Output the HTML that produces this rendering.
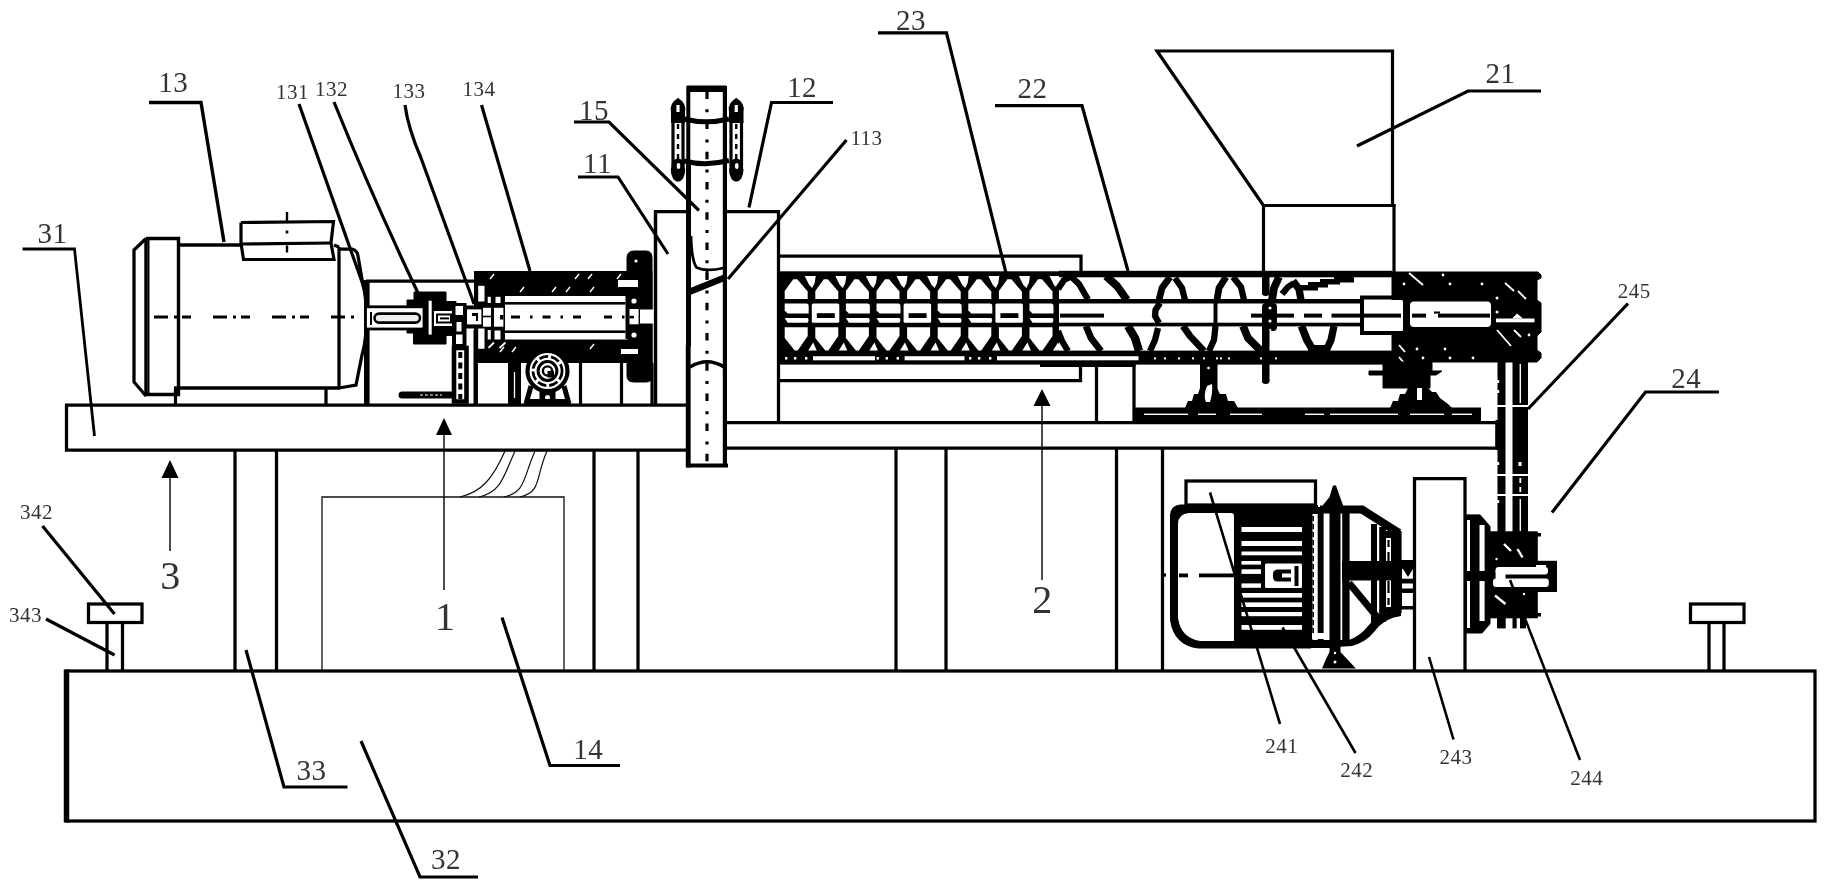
<!DOCTYPE html>
<html><head><meta charset="utf-8"><title>Figure</title>
<style>
html,body{margin:0;padding:0;background:#fff;}
svg{display:block;will-change:transform;font-family:"Liberation Serif","Noto Serif CJK SC",serif;}
</style></head><body>
<svg width="1827" height="888" viewBox="0 0 1827 888">
<rect x="0" y="0" width="1827" height="888" fill="#fff"/>
<rect x="67" y="671" width="1748" height="150" fill="none" stroke="#000" stroke-width="3.25"/>
<line x1="66.5" y1="669.5" x2="66.5" y2="822.5" stroke="#000" stroke-width="5.5" />
<rect x="88.5" y="604" width="53.5" height="18.5" fill="none" stroke="#000" stroke-width="3.25"/>
<line x1="107" y1="622" x2="107" y2="671" stroke="#000" stroke-width="3.25" />
<line x1="122.5" y1="622" x2="122.5" y2="671" stroke="#000" stroke-width="3.25" />
<rect x="1690.5" y="604" width="53.5" height="18.5" fill="none" stroke="#000" stroke-width="3.25"/>
<line x1="1709" y1="622" x2="1709" y2="671" stroke="#000" stroke-width="3.25" />
<line x1="1724" y1="622" x2="1724" y2="671" stroke="#000" stroke-width="3.25" />
<path d="M686 405 L66.5 405 L66.5 450 L686 450" fill="none" stroke="#000" stroke-width="3.25" />
<line x1="235" y1="450" x2="235" y2="671" stroke="#000" stroke-width="3.25" />
<line x1="276.5" y1="450" x2="276.5" y2="671" stroke="#000" stroke-width="3.25" />
<line x1="594" y1="450" x2="594" y2="671" stroke="#000" stroke-width="3.25" />
<line x1="638" y1="450" x2="638" y2="671" stroke="#000" stroke-width="3.25" />
<path d="M727 422.5 L1497 422.5" fill="none" stroke="#000" stroke-width="3.25" />
<path d="M727 448 L1497 448 L1497 422.5" fill="none" stroke="#000" stroke-width="3.25" />
<line x1="896" y1="448" x2="896" y2="671" stroke="#000" stroke-width="3.25" />
<line x1="946" y1="448" x2="946" y2="671" stroke="#000" stroke-width="3.25" />
<line x1="1116.5" y1="448" x2="1116.5" y2="671" stroke="#000" stroke-width="3.25" />
<line x1="1162.5" y1="448" x2="1162.5" y2="671" stroke="#000" stroke-width="3.25" />
<path d="M322 671 L322 497 L564 497 L564 671" fill="none" stroke="#111" stroke-width="1.3" />
<path d="M505 451 C493 478 482 492 460 497" fill="none" stroke="#111" stroke-width="1.2" />
<path d="M515 451 C503 478 501 492 479 497" fill="none" stroke="#111" stroke-width="1.2" />
<path d="M535 451 C523 478 526 492 504 497" fill="none" stroke="#111" stroke-width="1.2" />
<path d="M547 451 C535 478 542 492 520 497" fill="none" stroke="#111" stroke-width="1.2" />
<line x1="688.3" y1="86" x2="688.3" y2="466" stroke="#000" stroke-width="4" />
<line x1="724.9" y1="86" x2="724.9" y2="466" stroke="#000" stroke-width="4.2" />
<rect x="687" y="85.5" width="39" height="6.5" fill="#000"/>
<line x1="687" y1="465.5" x2="728" y2="465.5" stroke="#000" stroke-width="4" />
<line x1="707" y1="91.4" x2="707" y2="470" stroke="#000" stroke-width="3.2" stroke-dasharray="7.5 10.3 3 9.4"/>
<path d="M684 119 Q706 124.5 729 119" fill="none" stroke="#000" stroke-width="5" />
<path d="M684 161 Q706 166.5 729 160.5" fill="none" stroke="#000" stroke-width="5" />
<path d="M672 112 Q670 104 678.0 99 Q686 104 684 112 L684 122 L672 122 Z" fill="#000" stroke="#000" stroke-width="2" />
<rect x="676.4" y="105" width="3.2" height="7" fill="#fff"/>
<line x1="673" y1="120" x2="673" y2="166" stroke="#000" stroke-width="3.2" />
<line x1="683" y1="120" x2="683" y2="166" stroke="#000" stroke-width="3.2" />
<line x1="678.0" y1="124" x2="678.0" y2="160" stroke="#000" stroke-width="2.4" stroke-dasharray="5 5"/>
<ellipse cx="678.0" cy="170" rx="7.2" ry="11.5" fill="#000"/>
<ellipse cx="678.5" cy="166" rx="1.8" ry="3" fill="#fff"/>
<path d="M730 112 Q728 104 736.25 99 Q744.5 104 742.5 112 L742.5 122 L730 122 Z" fill="#000" stroke="#000" stroke-width="2" />
<rect x="734.65" y="105" width="3.2" height="7" fill="#fff"/>
<line x1="731" y1="120" x2="731" y2="166" stroke="#000" stroke-width="3.2" />
<line x1="741.5" y1="120" x2="741.5" y2="166" stroke="#000" stroke-width="3.2" />
<line x1="736.25" y1="124" x2="736.25" y2="160" stroke="#000" stroke-width="2.4" stroke-dasharray="5 5"/>
<ellipse cx="736.25" cy="170" rx="7.2" ry="11.5" fill="#000"/>
<ellipse cx="736.75" cy="166" rx="1.8" ry="3" fill="#fff"/>
<path d="M691 236 Q691.5 260 696.5 267.5 Q706 272 723.5 268" fill="none" stroke="#000" stroke-width="2.8" />
<rect x="686" y="165" width="5" height="181" fill="#000"/>
<path d="M689 292 L725 277.5" fill="none" stroke="#000" stroke-width="6.5" />
<line x1="707" y1="270" x2="707" y2="278" stroke="#000" stroke-width="2.5" />
<path d="M690 367 Q707.3 356.5 724 367" fill="none" stroke="#000" stroke-width="3.6" />
<rect x="685.8" y="345" width="4.7" height="122.5" fill="#000"/>
<path d="M688 211.5 L655.5 211.5 L655.5 404" fill="none" stroke="#000" stroke-width="3.25" />
<path d="M725 211.5 L778.5 211.5 L778.5 422" fill="none" stroke="#000" stroke-width="3.25" />
<path d="M146 238.5 L134 250 L134 382 L146 396" fill="none" stroke="#000" stroke-width="3.25" />
<path d="M146 238.5 L178.5 238.5 L178.5 394.5 L146 394.5 L146 238.5" fill="none" stroke="#000" stroke-width="3.4" />
<line x1="148.5" y1="240" x2="148.5" y2="394" stroke="#000" stroke-width="2" />
<path d="M178.5 245 L241 245" fill="none" stroke="#000" stroke-width="3.4" />
<path d="M334 245 L339 247" fill="none" stroke="#000" stroke-width="3.4" />
<line x1="339" y1="247" x2="339" y2="388" stroke="#000" stroke-width="3.25" />
<path d="M174 388 L340 388" fill="none" stroke="#000" stroke-width="3.4" />
<path d="M339 249 L352 249 Q357 250 358 256 L363 285 Q366 296 366 310 L366 330 Q365 345 362 355 L356 385 L339 388" fill="none" stroke="#000" stroke-width="3.25" />
<path d="M241 222.5 L333.5 221.5 L331 243 L334 259.5 L243.5 259.5 L241 243 L241 222.5" fill="none" stroke="#000" stroke-width="3.2" />
<path d="M241 244 L332 243" fill="none" stroke="#000" stroke-width="3.2" />
<line x1="287" y1="212" x2="287" y2="221" stroke="#000" stroke-width="2.4" />
<line x1="287" y1="230.5" x2="287" y2="233.5" stroke="#000" stroke-width="2.6" />
<line x1="287" y1="245.5" x2="287" y2="252.5" stroke="#000" stroke-width="2.4" />
<path d="M175.5 388 L175.5 404" fill="none" stroke="#000" stroke-width="3.25" />
<path d="M326 388 L326 404" fill="none" stroke="#000" stroke-width="3.25" />
<line x1="302" y1="388" x2="326" y2="388" stroke="#000" stroke-width="2" />
<line x1="154" y1="317" x2="356" y2="317" stroke="#000" stroke-width="3.2" stroke-dasharray="14 6 3 5 9 22"/>
<rect x="364" y="280" width="5.6" height="124" fill="#000"/>
<path d="M366 281.2 L476 281.2" fill="none" stroke="#000" stroke-width="3.2" />
<path d="M407 300 L414 300 L414 292 L446 292 L446 301.5 L456 301.5 L456 335.4 L446 335.4 L446 344 L413.5 344 L413.5 333 L407 333 Z" fill="#000" stroke="#000" stroke-width="1" />
<rect x="365.5" y="306.8" width="58.5" height="22.19999999999999" fill="#fff" stroke="#000" stroke-width="2.8"/>
<rect x="370" y="312" width="2" height="13" fill="#000"/>
<rect x="374.5" y="313.6" width="45.5" height="9" rx="4.5" fill="#eee" stroke="#000" stroke-width="2.6"/>
<rect x="428.6" y="300.7" width="3.1" height="33.9" fill="#fff"/>
<rect x="434" y="311" width="20.6" height="15" fill="#fff"/>
<rect x="437" y="314.5" width="14" height="8.0" fill="#fff" stroke="#000" stroke-width="2"/>
<rect x="440" y="317.4" width="9" height="2.0" fill="#000"/>
<rect x="452" y="303" width="14.5" height="45" fill="#000"/>
<rect x="455.5" y="306" width="7.5" height="9" fill="#fff"/>
<rect x="456.5" y="322" width="5.0" height="9.5" fill="#fff"/>
<rect x="456" y="334.5" width="6.5" height="9.5" fill="#fff"/>
<rect x="466" y="305.5" width="10" height="23.0" fill="#000"/>
<rect x="454" y="348" width="12.5" height="53.5" fill="#fff" stroke="#000" stroke-width="4.6"/>
<line x1="460.3" y1="352" x2="460.3" y2="399" stroke="#000" stroke-width="4" stroke-dasharray="6 4.5"/>
<rect x="398.5" y="391.4" width="56" height="7.2" rx="3.6" fill="#000"/>
<line x1="420" y1="395" x2="442" y2="395" stroke="#fff" stroke-width="1" stroke-dasharray="3 2"/>
<line x1="475.7" y1="330" x2="475.7" y2="404" stroke="#000" stroke-width="4.4" />
<rect x="474" y="271" width="178.5" height="92" fill="#000"/>
<path d="M627 258 Q627 251 634 251 L646 251 Q652 251 652 258 L652 376 Q652 382 646 382 L634 382 Q627 382 627 376 Z" fill="#000" stroke="#000" stroke-width="1" />
<circle cx="636" cy="261" r="1.6" fill="#fff" stroke="#000" stroke-width="0" />
<rect x="505" y="296" width="123" height="43.5" fill="#fff"/>
<rect x="505" y="302" width="120.5" height="2.6" fill="#000"/>
<rect x="505" y="330.4" width="120.5" height="2.6" fill="#000"/>
<line x1="511" y1="317" x2="628" y2="317" stroke="#000" stroke-width="3.2" stroke-dasharray="9 10 2.5 10 8 10 2.5 10 8 23 8 10 2.5 20"/>
<rect x="467" y="309.4" width="14.4" height="15.0" fill="#fff"/>
<rect x="472" y="313" width="4" height="3" fill="#000"/>
<rect x="476" y="313" width="2" height="8" fill="#000"/>
<rect x="483" y="307.8" width="8" height="7.9" fill="#fff"/>
<rect x="483" y="317.3" width="8" height="9.4" fill="#fff"/>
<rect x="494" y="307.8" width="9.4" height="18.9" fill="#fff"/>
<rect x="500" y="315" width="3.4" height="4.5" fill="#000"/>
<rect x="478.2" y="285.8" width="6.3" height="15.7" fill="#fff"/>
<rect x="487.7" y="296.8" width="3.1" height="6.2" fill="#fff"/>
<rect x="495.5" y="296.8" width="5.0" height="6.2" fill="#fff"/>
<rect x="478.2" y="328.5" width="6.3" height="20.3" fill="#fff"/>
<rect x="487.7" y="330" width="3.1" height="9.5" fill="#fff"/>
<rect x="494.5" y="330.5" width="6.0" height="9.0" fill="#fff"/>
<line x1="488.5" y1="347.8" x2="494" y2="342.5" stroke="#fff" stroke-width="1.8" />
<line x1="499.5" y1="348" x2="505.5" y2="342.5" stroke="#fff" stroke-width="1.8" />
<rect x="625.5" y="296" width="26.5" height="43" fill="#000"/>
<rect x="640" y="309.5" width="14" height="14.0" fill="#fff"/>
<rect x="629.5" y="309" width="9.1" height="15.3" fill="#fff"/>
<rect x="629.5" y="315.8" width="4.5" height="2.6" fill="#000"/>
<circle cx="634" cy="301" r="2.6" fill="#fff" stroke="#000" stroke-width="0" />
<circle cx="634" cy="335" r="2.6" fill="#fff" stroke="#000" stroke-width="0" />
<rect x="618" y="280" width="20" height="7" fill="#fff"/>
<rect x="621" y="349" width="17" height="5" fill="#fff"/>
<line x1="490" y1="279" x2="494" y2="274" stroke="#fff" stroke-width="1.4" />
<line x1="520" y1="292" x2="524" y2="287" stroke="#fff" stroke-width="1.4" />
<line x1="552" y1="292" x2="556" y2="287" stroke="#fff" stroke-width="1.4" />
<line x1="566" y1="292" x2="570" y2="287" stroke="#fff" stroke-width="1.4" />
<line x1="590" y1="292" x2="594" y2="287" stroke="#fff" stroke-width="1.4" />
<line x1="575" y1="279" x2="579" y2="274" stroke="#fff" stroke-width="1.4" />
<line x1="588" y1="279" x2="592" y2="274" stroke="#fff" stroke-width="1.4" />
<line x1="617" y1="279" x2="621" y2="274" stroke="#fff" stroke-width="1.4" />
<line x1="500" y1="352" x2="504" y2="347" stroke="#fff" stroke-width="1.4" />
<line x1="512" y1="352" x2="516" y2="347" stroke="#fff" stroke-width="1.4" />
<line x1="590" y1="349" x2="594" y2="344" stroke="#fff" stroke-width="1.4" />
<line x1="476" y1="363" x2="476" y2="404" stroke="#000" stroke-width="3.2" />
<line x1="510.5" y1="363" x2="510.5" y2="404" stroke="#000" stroke-width="3.2" />
<line x1="519" y1="363" x2="519" y2="404" stroke="#000" stroke-width="3.2" />
<line x1="580.5" y1="363" x2="580.5" y2="404" stroke="#000" stroke-width="3.2" />
<line x1="621.5" y1="363" x2="621.5" y2="404" stroke="#000" stroke-width="3.2" />
<line x1="652" y1="363" x2="652" y2="404" stroke="#000" stroke-width="3.2" />
<rect x="508" y="363" width="13" height="41" fill="#000"/>
<line x1="514.5" y1="372" x2="514.5" y2="398" stroke="#fff" stroke-width="1.3" />
<circle cx="547.5" cy="371" r="20" fill="#fff" stroke="#000" stroke-width="4.2" />
<circle cx="547.5" cy="371" r="14.6" fill="none" stroke="#000" stroke-width="2.8" stroke-dasharray="9 3"/>
<circle cx="547.5" cy="371" r="9.4" fill="none" stroke="#000" stroke-width="3" />
<circle cx="547.5" cy="371" r="4.6" fill="none" stroke="#000" stroke-width="2.4" />
<rect x="547.5" y="371" width="6.5" height="6.5" fill="#000"/>
<path d="M531 386 L526 404" fill="none" stroke="#000" stroke-width="5" />
<path d="M564 386 L569 404" fill="none" stroke="#000" stroke-width="5" />
<rect x="539.5" y="390" width="16.0" height="14" fill="#000"/>
<circle cx="547.5" cy="397.5" r="2.5" fill="#fff" stroke="#000" stroke-width="0" />
<rect x="525" y="399" width="45" height="5" fill="#000"/>
<line x1="655.5" y1="211.5" x2="655.5" y2="404" stroke="#000" stroke-width="3.25" />
<path d="M779 256 L1081 256 L1081 272" fill="none" stroke="#000" stroke-width="3.25" />
<path d="M779 380.5 L1080.5 380.5 L1080.5 364" fill="none" stroke="#000" stroke-width="3.25" />
<rect x="779" y="271.3" width="280" height="93.3" fill="#000"/>
<path d="M784.7 299 L784.7 291 L793.2 279.3 L797.2 279.3 L807.7 291.5 L807.7 299 Z" fill="#fff" stroke="#000" stroke-width="0" />
<path d="M804.7 276 L815.7 276 L814.7 283 L812.2 288 L809.2 285 Z" fill="#fff" stroke="#000" stroke-width="0" />
<path d="M784.7 303.5 L806.7 303.5 Q808.7 303.5 808.7 306 L808.7 313.4 L787.7 313.4 L784.7 310.5 Z" fill="#fff"/>
<path d="M784.7 317.9 L807.7 317.9 L808.7 320 L807.7 322.7 L787.7 322.7 Z" fill="#fff"/>
<path d="M784.7 327.2 L807.7 327.2 L807.7 336 L797.7 350.4 L794.7 350.4 L784.7 338 Z" fill="#fff" stroke="#000" stroke-width="0" />
<path d="M808.2 350.6 L816.7 350.6 L813.2 342.5 Z" fill="#fff" stroke="#000" stroke-width="0" />
<path d="M815.3000000000001 299 L815.3000000000001 291 L823.8000000000001 279.3 L827.8000000000001 279.3 L838.3000000000001 291.5 L838.3000000000001 299 Z" fill="#fff" stroke="#000" stroke-width="0" />
<path d="M835.3000000000001 276 L846.3000000000001 276 L845.3000000000001 283 L842.8000000000001 288 L839.8000000000001 285 Z" fill="#fff" stroke="#000" stroke-width="0" />
<rect x="811.8" y="303.5" width="27.5" height="19.3" rx="1.5" fill="#fff"/>
<rect x="816.8000000000001" y="313.2" width="18.0" height="4.8" fill="#000"/>
<path d="M815.3000000000001 327.2 L838.3000000000001 327.2 L838.3000000000001 336 L828.3000000000001 350.4 L825.3000000000001 350.4 L815.3000000000001 338 Z" fill="#fff" stroke="#000" stroke-width="0" />
<path d="M838.8000000000001 350.6 L847.3000000000001 350.6 L843.8000000000001 342.5 Z" fill="#fff" stroke="#000" stroke-width="0" />
<path d="M845.9000000000001 299 L845.9000000000001 291 L854.4000000000001 279.3 L858.4000000000001 279.3 L868.9000000000001 291.5 L868.9000000000001 299 Z" fill="#fff" stroke="#000" stroke-width="0" />
<path d="M865.9000000000001 276 L876.9000000000001 276 L875.9000000000001 283 L873.4000000000001 288 L870.4000000000001 285 Z" fill="#fff" stroke="#000" stroke-width="0" />
<path d="M845.9 303.5 L867.9 303.5 Q869.9 303.5 869.9 306 L869.9 313.4 L848.9 313.4 L845.9 310.5 Z" fill="#fff"/>
<path d="M845.9 317.9 L868.9 317.9 L869.9 320 L868.9 322.7 L848.9 322.7 Z" fill="#fff"/>
<path d="M845.9000000000001 327.2 L868.9000000000001 327.2 L868.9000000000001 336 L858.9000000000001 350.4 L855.9000000000001 350.4 L845.9000000000001 338 Z" fill="#fff" stroke="#000" stroke-width="0" />
<path d="M869.4000000000001 350.6 L877.9000000000001 350.6 L874.4000000000001 342.5 Z" fill="#fff" stroke="#000" stroke-width="0" />
<path d="M876.5 299 L876.5 291 L885.0 279.3 L889.0 279.3 L899.5 291.5 L899.5 299 Z" fill="#fff" stroke="#000" stroke-width="0" />
<path d="M896.5 276 L907.5 276 L906.5 283 L904.0 288 L901.0 285 Z" fill="#fff" stroke="#000" stroke-width="0" />
<path d="M876.5 303.5 L898.5 303.5 Q900.5 303.5 900.5 306 L900.5 313.4 L879.5 313.4 L876.5 310.5 Z" fill="#fff"/>
<path d="M876.5 317.9 L899.5 317.9 L900.5 320 L899.5 322.7 L879.5 322.7 Z" fill="#fff"/>
<path d="M876.5 327.2 L899.5 327.2 L899.5 336 L889.5 350.4 L886.5 350.4 L876.5 338 Z" fill="#fff" stroke="#000" stroke-width="0" />
<path d="M900.0 350.6 L908.5 350.6 L905.0 342.5 Z" fill="#fff" stroke="#000" stroke-width="0" />
<path d="M907.1 299 L907.1 291 L915.6 279.3 L919.6 279.3 L930.1 291.5 L930.1 299 Z" fill="#fff" stroke="#000" stroke-width="0" />
<path d="M927.1 276 L938.1 276 L937.1 283 L934.6 288 L931.6 285 Z" fill="#fff" stroke="#000" stroke-width="0" />
<rect x="903.6" y="303.5" width="27.5" height="19.3" rx="1.5" fill="#fff"/>
<rect x="908.6" y="313.2" width="18.0" height="4.8" fill="#000"/>
<path d="M907.1 327.2 L930.1 327.2 L930.1 336 L920.1 350.4 L917.1 350.4 L907.1 338 Z" fill="#fff" stroke="#000" stroke-width="0" />
<path d="M930.6 350.6 L939.1 350.6 L935.6 342.5 Z" fill="#fff" stroke="#000" stroke-width="0" />
<path d="M937.7 299 L937.7 291 L946.2 279.3 L950.2 279.3 L960.7 291.5 L960.7 299 Z" fill="#fff" stroke="#000" stroke-width="0" />
<path d="M957.7 276 L968.7 276 L967.7 283 L965.2 288 L962.2 285 Z" fill="#fff" stroke="#000" stroke-width="0" />
<path d="M937.7 303.5 L959.7 303.5 Q961.7 303.5 961.7 306 L961.7 313.4 L940.7 313.4 L937.7 310.5 Z" fill="#fff"/>
<path d="M937.7 317.9 L960.7 317.9 L961.7 320 L960.7 322.7 L940.7 322.7 Z" fill="#fff"/>
<path d="M937.7 327.2 L960.7 327.2 L960.7 336 L950.7 350.4 L947.7 350.4 L937.7 338 Z" fill="#fff" stroke="#000" stroke-width="0" />
<path d="M961.2 350.6 L969.7 350.6 L966.2 342.5 Z" fill="#fff" stroke="#000" stroke-width="0" />
<path d="M968.3000000000001 299 L968.3000000000001 291 L976.8000000000001 279.3 L980.8000000000001 279.3 L991.3000000000001 291.5 L991.3000000000001 299 Z" fill="#fff" stroke="#000" stroke-width="0" />
<path d="M988.3000000000001 276 L999.3000000000001 276 L998.3000000000001 283 L995.8000000000001 288 L992.8000000000001 285 Z" fill="#fff" stroke="#000" stroke-width="0" />
<path d="M968.3 303.5 L990.3 303.5 Q992.3 303.5 992.3 306 L992.3 313.4 L971.3 313.4 L968.3 310.5 Z" fill="#fff"/>
<path d="M968.3 317.9 L991.3 317.9 L992.3 320 L991.3 322.7 L971.3 322.7 Z" fill="#fff"/>
<path d="M968.3000000000001 327.2 L991.3000000000001 327.2 L991.3000000000001 336 L981.3000000000001 350.4 L978.3000000000001 350.4 L968.3000000000001 338 Z" fill="#fff" stroke="#000" stroke-width="0" />
<path d="M991.8000000000001 350.6 L1000.3000000000001 350.6 L996.8000000000001 342.5 Z" fill="#fff" stroke="#000" stroke-width="0" />
<path d="M998.9000000000001 299 L998.9000000000001 291 L1007.4000000000001 279.3 L1011.4000000000001 279.3 L1021.9000000000001 291.5 L1021.9000000000001 299 Z" fill="#fff" stroke="#000" stroke-width="0" />
<path d="M1018.9000000000001 276 L1029.9 276 L1028.9 283 L1026.4 288 L1023.4000000000001 285 Z" fill="#fff" stroke="#000" stroke-width="0" />
<rect x="995.4" y="303.5" width="27.5" height="19.3" rx="1.5" fill="#fff"/>
<rect x="1000.4000000000001" y="313.2" width="18.0" height="4.8" fill="#000"/>
<path d="M998.9000000000001 327.2 L1021.9000000000001 327.2 L1021.9000000000001 336 L1011.9000000000001 350.4 L1008.9000000000001 350.4 L998.9000000000001 338 Z" fill="#fff" stroke="#000" stroke-width="0" />
<path d="M1022.4000000000001 350.6 L1030.9 350.6 L1027.4 342.5 Z" fill="#fff" stroke="#000" stroke-width="0" />
<path d="M1029.5 299 L1029.5 291 L1038.0 279.3 L1042.0 279.3 L1052.5 291.5 L1052.5 299 Z" fill="#fff" stroke="#000" stroke-width="0" />
<path d="M1049.5 276 L1060.5 276 L1059.5 283 L1057.0 288 L1054.0 285 Z" fill="#fff" stroke="#000" stroke-width="0" />
<path d="M1029.5 303.5 L1051.5 303.5 Q1053.5 303.5 1053.5 306 L1053.5 313.4 L1032.5 313.4 L1029.5 310.5 Z" fill="#fff"/>
<path d="M1029.5 317.9 L1052.5 317.9 L1053.5 320 L1052.5 322.7 L1032.5 322.7 Z" fill="#fff"/>
<path d="M1029.5 327.2 L1052.5 327.2 L1052.5 336 L1042.5 350.4 L1039.5 350.4 L1029.5 338 Z" fill="#fff" stroke="#000" stroke-width="0" />
<path d="M1053.0 350.6 L1061.5 350.6 L1058.0 342.5 Z" fill="#fff" stroke="#000" stroke-width="0" />
<rect x="813" y="356.2" width="62" height="4.1" fill="#fff"/>
<rect x="785" y="357" width="2.4" height="2.6" fill="#fff"/>
<rect x="794" y="357" width="2.4" height="2.6" fill="#fff"/>
<rect x="805" y="357" width="2.4" height="2.6" fill="#fff"/>
<rect x="904.6" y="356.2" width="59.9" height="4.1" fill="#fff"/>
<rect x="876.6" y="357" width="2.4" height="2.6" fill="#fff"/>
<rect x="885.6" y="357" width="2.4" height="2.6" fill="#fff"/>
<rect x="896.6" y="357" width="2.4" height="2.6" fill="#fff"/>
<rect x="997" y="356.2" width="141.5" height="4.1" fill="#fff"/>
<rect x="969" y="357" width="2.4" height="2.6" fill="#fff"/>
<rect x="978" y="357" width="2.4" height="2.6" fill="#fff"/>
<rect x="989" y="357" width="2.4" height="2.6" fill="#fff"/>
<rect x="1059" y="270.8" width="333" height="6.5" fill="#000"/>
<rect x="1059" y="299" width="303" height="4.5" fill="#000"/>
<rect x="1059" y="322.7" width="303" height="3.7" fill="#000"/>
<rect x="1059" y="350.6" width="333" height="14.0" fill="#000"/>
<rect x="1059" y="356.2" width="79.5" height="4.1" fill="#fff"/>
<rect x="1040" y="362" width="95.5" height="5" fill="#000"/>
<rect x="1154" y="357.4" width="2" height="2.0" fill="#fff"/>
<rect x="1164" y="357.4" width="2" height="2.0" fill="#fff"/>
<rect x="1178" y="357.4" width="2" height="2.0" fill="#fff"/>
<rect x="1192" y="357.4" width="2" height="2.0" fill="#fff"/>
<rect x="1203" y="357.4" width="2" height="2.0" fill="#fff"/>
<rect x="1216" y="357.4" width="2" height="2.0" fill="#fff"/>
<rect x="1228" y="357.4" width="2" height="2.0" fill="#fff"/>
<rect x="1260" y="357.4" width="2" height="2.0" fill="#fff"/>
<rect x="1275" y="357.4" width="2" height="2.0" fill="#fff"/>
<rect x="1220" y="357.4" width="2" height="2.0" fill="#fff"/>
<path d="M1058 289 L1064 280 L1071 276.5 L1079 284 L1088 299.5" fill="none" stroke="#000" stroke-width="6.3" stroke-linejoin="round" stroke-linecap="butt"/>
<path d="M1106 276 L1117 286 L1127 300" fill="none" stroke="#000" stroke-width="7.8" stroke-linejoin="round" stroke-linecap="butt"/>
<path d="M1159 300 L1162 288 L1170 277" fill="none" stroke="#000" stroke-width="6.8" stroke-linejoin="round" stroke-linecap="butt"/>
<path d="M1175 278 L1182 288 L1185 300" fill="none" stroke="#000" stroke-width="6.3" stroke-linejoin="round" stroke-linecap="butt"/>
<path d="M1226 277 L1219 288 L1217 300" fill="none" stroke="#000" stroke-width="6.8" stroke-linejoin="round" stroke-linecap="butt"/>
<path d="M1233 277 L1241 287 L1244 300" fill="none" stroke="#000" stroke-width="6.3" stroke-linejoin="round" stroke-linecap="butt"/>
<rect x="1262" y="276" width="7.5" height="17" fill="#000"/>
<ellipse cx="1265.7" cy="293" rx="3.8" ry="3" fill="#000"/>
<path d="M1279 277 L1274 288 L1272 300" fill="none" stroke="#000" stroke-width="7.8" stroke-linejoin="round" stroke-linecap="butt"/>
<path d="M1282 294 L1288 287 L1294 283" fill="none" stroke="#000" stroke-width="6.3" stroke-linejoin="round" stroke-linecap="butt"/>
<path d="M1293 281 L1299 289 L1301 300" fill="none" stroke="#000" stroke-width="7.3" stroke-linejoin="round" stroke-linecap="butt"/>
<rect x="1298" y="285" width="20" height="5.5" fill="#000"/>
<rect x="1308" y="282" width="20" height="5.5" fill="#000"/>
<rect x="1320" y="279" width="20" height="5.5" fill="#000"/>
<rect x="1334" y="277" width="20" height="5.5" fill="#000"/>
<path d="M1160 303 L1155.5 310 L1155 316 L1159 323" fill="none" stroke="#000" stroke-width="6.3" stroke-linejoin="round" stroke-linecap="butt"/>
<line x1="1215.5" y1="303" x2="1215.5" y2="323" stroke="#000" stroke-width="4" />
<rect x="1060" y="313.6" width="44" height="4.0" fill="#000"/>
<rect x="1251" y="313.6" width="43" height="4.0" fill="#000"/>
<rect x="1304" y="313.6" width="18" height="4.0" fill="#000"/>
<rect x="1331.5" y="313.6" width="30.5" height="4.0" fill="#000"/>
<rect x="1262" y="303" width="15" height="28" rx="4" fill="#000"/>
<circle cx="1270" cy="308" r="1.6" fill="#fff" stroke="#000" stroke-width="0" />
<circle cx="1270" cy="321" r="1.6" fill="#fff" stroke="#000" stroke-width="0" />
<circle cx="1270" cy="330" r="1.3" fill="#fff" stroke="#000" stroke-width="0" />
<path d="M1058 331 L1062 341 L1068 351" fill="none" stroke="#000" stroke-width="6.3" stroke-linejoin="round" stroke-linecap="butt"/>
<path d="M1086 326 L1091 338 L1101 351" fill="none" stroke="#000" stroke-width="6.8" stroke-linejoin="round" stroke-linecap="butt"/>
<path d="M1128 326 L1135 338 L1139 351" fill="none" stroke="#000" stroke-width="8.3" stroke-linejoin="round" stroke-linecap="butt"/>
<path d="M1158 328 L1155 340 L1150 351" fill="none" stroke="#000" stroke-width="6.3" stroke-linejoin="round" stroke-linecap="butt"/>
<path d="M1183 326 L1190 336 L1204 351" fill="none" stroke="#000" stroke-width="6.8" stroke-linejoin="round" stroke-linecap="butt"/>
<path d="M1215.5 326 L1214 340 L1209 351" fill="none" stroke="#000" stroke-width="6.3" stroke-linejoin="round" stroke-linecap="butt"/>
<path d="M1243 326 L1248 338 L1261 351" fill="none" stroke="#000" stroke-width="7.8" stroke-linejoin="round" stroke-linecap="butt"/>
<rect x="1262" y="326" width="7.5" height="55" fill="#000"/>
<ellipse cx="1265.7" cy="381" rx="3.8" ry="3" fill="#000"/>
<path d="M1301.5 326 L1307 340 L1313.5 351" fill="none" stroke="#000" stroke-width="7.8" stroke-linejoin="round" stroke-linecap="butt"/>
<path d="M1334 326 L1331 340 L1326 351" fill="none" stroke="#000" stroke-width="7.3" stroke-linejoin="round" stroke-linecap="butt"/>
<rect x="1308" y="345" width="22" height="6" fill="#000"/>
<rect x="1362" y="297.5" width="43" height="35.5" fill="none" stroke="#000" stroke-width="4"/>
<rect x="1362" y="313.6" width="43" height="4.0" fill="#000"/>
<path d="M1263.5 272 L1263.5 205.5 L1157 51 L1392.5 51 L1392.5 205.5" fill="none" stroke="#000" stroke-width="3.2" />
<line x1="1262" y1="205.5" x2="1395.5" y2="205.5" stroke="#000" stroke-width="3.2" />
<line x1="1394" y1="204" x2="1394" y2="272" stroke="#000" stroke-width="3.2" />
<path d="M1392 272 L1538 272 L1541 275 L1541 278 L1537 280 L1537 300 L1541 303 L1541 332 L1537 336 L1537 350 L1541 353 L1541 358 L1537 362 L1392 362 Z" fill="#000" stroke="#000" stroke-width="1" />
<rect x="1364.5" y="300" width="38.5" height="31" rx="1.5" fill="#fff"/>
<rect x="1362" y="313.6" width="39" height="4.0" fill="#000"/>
<rect x="1410" y="301.5" width="81" height="25.5" rx="4" fill="#fff"/>
<rect x="1412" y="313.6" width="14" height="4.0" fill="#000"/>
<rect x="1438" y="313.6" width="52" height="4.0" fill="#000"/>
<rect x="1434" y="311.5" width="6" height="2.1" fill="#000"/>
<rect x="1496" y="318.5" width="38.5" height="3.8" fill="#fff"/>
<path d="M1512 318.5 L1517 313.5 L1523 318.5 Z" fill="#fff" stroke="#000" stroke-width="0" />
<circle cx="1497" cy="312" r="1.5" fill="#fff" stroke="#000" stroke-width="0" />
<circle cx="1497" cy="298" r="1.5" fill="#fff" stroke="#000" stroke-width="0" />
<line x1="1409" y1="273" x2="1423" y2="285" stroke="#fff" stroke-width="1.8" />
<line x1="1505" y1="283" x2="1514" y2="291" stroke="#fff" stroke-width="1.8" />
<line x1="1518" y1="291" x2="1526" y2="299" stroke="#fff" stroke-width="1.8" />
<line x1="1497" y1="330" x2="1511" y2="346" stroke="#fff" stroke-width="1.8" />
<line x1="1514" y1="330" x2="1521" y2="337" stroke="#fff" stroke-width="1.8" />
<line x1="1399" y1="345" x2="1405" y2="352" stroke="#fff" stroke-width="1.8" />
<line x1="1399" y1="357" x2="1409" y2="369" stroke="#fff" stroke-width="1.8" />
<circle cx="1404" cy="284" r="1.4" fill="#fff" stroke="#000" stroke-width="0" />
<circle cx="1450" cy="284" r="1.4" fill="#fff" stroke="#000" stroke-width="0" />
<circle cx="1482" cy="284" r="1.4" fill="#fff" stroke="#000" stroke-width="0" />
<circle cx="1443" cy="275" r="1.4" fill="#fff" stroke="#000" stroke-width="0" />
<circle cx="1417" cy="349" r="1.4" fill="#fff" stroke="#000" stroke-width="0" />
<circle cx="1445" cy="349" r="1.4" fill="#fff" stroke="#000" stroke-width="0" />
<circle cx="1423" cy="358" r="1.4" fill="#fff" stroke="#000" stroke-width="0" />
<circle cx="1450" cy="358" r="1.4" fill="#fff" stroke="#000" stroke-width="0" />
<circle cx="1473" cy="358" r="1.4" fill="#fff" stroke="#000" stroke-width="0" />
<circle cx="1529" cy="335" r="1.4" fill="#fff" stroke="#000" stroke-width="0" />
<path d="M1369 371 L1383 371 L1383 362 L1432 362 L1432 371 L1442 371 L1436 375 L1430 375 L1430 388 L1383 388 L1383 375 L1369 375 Z" fill="#000" stroke="#000" stroke-width="1" />
<path d="M1385 362 L1382 366 L1379 369" fill="none" stroke="#000" stroke-width="0" />
<rect x="1134" y="407.5" width="347" height="15.5" fill="#000"/>
<rect x="1144" y="413.6" width="44" height="1.4" fill="#fff"/>
<rect x="1198" y="413.6" width="18" height="1.4" fill="#fff"/>
<rect x="1230" y="413.6" width="32" height="1.4" fill="#fff"/>
<rect x="1305" y="413.6" width="19" height="1.4" fill="#fff"/>
<rect x="1330" y="413.6" width="68" height="1.4" fill="#fff"/>
<rect x="1410" y="413.6" width="34" height="1.4" fill="#fff"/>
<rect x="1452" y="413.6" width="20" height="1.4" fill="#fff"/>
<rect x="1200" y="364" width="17.5" height="44" fill="#000"/>
<path d="M1185 408 L1188 401 L1192 401 L1194 394 L1198 394 L1200 388 L1217 388 L1220 394 L1226 394 L1228 401 L1234 401 L1238 408 Z" fill="#000" stroke="#000" stroke-width="0" />
<path d="M1207 386 Q1203 396 1206 402 L1210 402 Q1213 392 1212 384 Z" fill="#fff" stroke="#000" stroke-width="0" />
<circle cx="1208.5" cy="368" r="1.3" fill="#fff" stroke="#000" stroke-width="0" />
<rect x="1408" y="386" width="20" height="22" fill="#000"/>
<path d="M1390 408 L1393 401 L1398 401 L1400 394 L1405 394 L1408 388 L1428 388 L1432 392 L1436 392 L1440 398 L1448 404 L1452 408 Z" fill="#000" stroke="#000" stroke-width="0" />
<rect x="1417" y="388" width="5" height="12" fill="#fff"/>
<path d="M1096.5 364 L1096.5 422" fill="none" stroke="#000" stroke-width="3.25" />
<path d="M1134 364 L1134 422" fill="none" stroke="#000" stroke-width="3.25" />
<rect x="1497.5" y="362" width="8.0" height="171" fill="#000"/>
<rect x="1512.5" y="362" width="15.5" height="171" fill="#000"/>
<line x1="1520.3" y1="364" x2="1520.3" y2="403" stroke="#fff" stroke-width="1.4" />
<line x1="1520.3" y1="478" x2="1520.3" y2="494" stroke="#fff" stroke-width="1.8" stroke-dasharray="5 4"/>
<line x1="1520.3" y1="499" x2="1520.3" y2="531" stroke="#fff" stroke-width="1.4" />
<rect x="1518.5" y="462" width="3.0" height="4" fill="#fff"/>
<rect x="1496" y="405" width="34" height="2" fill="#fff"/>
<rect x="1496" y="474" width="34" height="2" fill="#fff"/>
<rect x="1496" y="494" width="34" height="2" fill="#fff"/>
<rect x="1497" y="380" width="2.2" height="3" fill="#fff"/>
<rect x="1497" y="390" width="2.2" height="3" fill="#fff"/>
<rect x="1497" y="462" width="2.2" height="3" fill="#fff"/>
<rect x="1497" y="500" width="2.2" height="3" fill="#fff"/>
<rect x="1495.5" y="420" width="3.5" height="30" fill="#000"/>
<rect x="1186" y="481" width="129.5" height="24" fill="none" stroke="#000" stroke-width="3.25"/>
<path d="M1180 505 L1311 505 L1311 648 L1198 648 Q1174 645 1170.5 620 L1170.5 515 Q1171 506 1180 505 Z" fill="#000" stroke="#000" stroke-width="1" />
<path d="M1189 513 L1231 513 Q1234 513 1234 516 L1234 641 L1200 641 Q1181 638 1178 618 L1178 524 Q1178 514 1189 513 Z" fill="#fff" stroke="#000" stroke-width="0" />
<line x1="1163" y1="575" x2="1166" y2="575" stroke="#000" stroke-width="3.25" />
<rect x="1179" y="573.5" width="9" height="3.8" fill="#000"/>
<rect x="1199" y="573.5" width="35" height="3.8" fill="#000"/>
<rect x="1241.5" y="527" width="60.5" height="5" fill="#fff"/>
<rect x="1241.5" y="541" width="60.5" height="5" fill="#fff"/>
<rect x="1241.5" y="551.5" width="60.5" height="3.8" fill="#fff"/>
<rect x="1241.5" y="561" width="19.5" height="3.6" fill="#fff"/>
<rect x="1241.5" y="569.3" width="19.5" height="4.6" fill="#fff"/>
<rect x="1241.5" y="583.4" width="19.5" height="4.4" fill="#fff"/>
<rect x="1241.5" y="593" width="60.5" height="4.6" fill="#fff"/>
<rect x="1241.5" y="602.4" width="60.5" height="4.6" fill="#fff"/>
<rect x="1241.5" y="612" width="60.5" height="4.2" fill="#fff"/>
<rect x="1241.5" y="625" width="60.5" height="4.8" fill="#fff"/>
<rect x="1265" y="563.4" width="37" height="24.6" rx="1.5" fill="#fff"/>
<path d="M1291 569.5 L1278 569.5 Q1273 569.5 1273 574 L1273 577 Q1273 581.5 1278 581.5 L1291 581.5 L1291 577.5 L1282 577.5 L1282 573.5 L1291 573.5 Z" fill="#000" stroke="#000" stroke-width="0" />
<rect x="1294.5" y="566" width="4.0" height="20" fill="#000"/>
<rect x="1311" y="505" width="1.5" height="143" fill="#000"/>
<rect x="1311" y="505" width="7" height="9" fill="#000"/>
<rect x="1311" y="640" width="7" height="8" fill="#000"/>
<line x1="1313.2" y1="516" x2="1313.2" y2="636" stroke="#000" stroke-width="1.6" stroke-dasharray="5 3"/>
<rect x="1317.7" y="507" width="5.9" height="139" fill="#000"/>
<rect x="1311" y="640" width="19" height="8" fill="#000"/>
<rect x="1312" y="633" width="14" height="6" fill="#fff"/>
<path d="M1329.5 497 L1333 485.5 L1336 485.5 L1340 497 L1343 505 L1343 512 L1340.5 512 L1340.5 652 L1347 659 L1356 668.5 L1322 668.5 L1326 659 L1329.5 652 L1329.5 512 L1323 512 L1323 505 Z" fill="#000" stroke="#000" stroke-width="0" />
<circle cx="1335" cy="662" r="1.5" fill="#fff" stroke="#000" stroke-width="0" />
<circle cx="1335" cy="653" r="1.2" fill="#fff" stroke="#000" stroke-width="0" />
<rect x="1342.2" y="512" width="7.4" height="130" fill="#000"/>
<rect x="1320" y="505.5" width="44" height="8.0" fill="#000"/>
<path d="M1362 509.5 L1399 533" fill="none" stroke="#000" stroke-width="8" />
<rect x="1391" y="531" width="10.6" height="82" fill="#000"/>
<rect x="1371" y="524" width="6" height="104" fill="#000"/>
<rect x="1379.2" y="527" width="6.8" height="95" fill="#000"/>
<line x1="1388.5" y1="540" x2="1388.5" y2="606" stroke="#000" stroke-width="2.2" stroke-dasharray="7 5 12 5"/>
<rect x="1386" y="531" width="5" height="7" fill="#000"/>
<rect x="1386" y="607" width="5" height="6" fill="#000"/>
<rect x="1342" y="561" width="58" height="19.5" fill="#000"/>
<path d="M1349 583 L1378 618" fill="none" stroke="#000" stroke-width="7" />
<path d="M1401 610 L1401 616 Q1384 618 1374 632 Q1366 642 1352 646 L1320 648 L1320 640 L1349 640 Q1360 636 1368 626 Q1380 612 1401 610 Z" fill="#000" stroke="#000" stroke-width="0" />
<rect x="1400" y="560" width="14" height="49.5" fill="#000"/>
<rect x="1402" y="569" width="11" height="9.7" fill="#fff"/>
<path d="M1403 569 L1413 569 L1408 577 Z" fill="#000" stroke="#000" stroke-width="0" />
<rect x="1402" y="583.5" width="11" height="5.0" fill="#fff"/>
<rect x="1402" y="593" width="11" height="13" fill="#fff"/>
<path d="M1414.5 671 L1414.5 478.5 L1465 478.5 L1465 671" fill="none" stroke="#000" stroke-width="3.25" />
<rect x="1465.5" y="514.4" width="25.0" height="119.1" fill="#000"/>
<rect x="1467" y="520" width="3" height="51" fill="#fff"/>
<rect x="1467" y="581" width="3" height="47" fill="#fff"/>
<rect x="1479.5" y="525" width="5.1" height="46" fill="#fff"/>
<rect x="1479.5" y="581" width="5.1" height="40" fill="#fff"/>
<path d="M1478 512 L1492 512 L1492 528 Z" fill="#fff" stroke="#000" stroke-width="0" />
<path d="M1480 636 L1492 636 L1492 622 Z" fill="#fff" stroke="#000" stroke-width="0" />
<rect x="1490" y="531.3" width="47.8" height="87.0" fill="#000"/>
<rect x="1537" y="533" width="4" height="3.5" fill="#000"/>
<rect x="1537" y="613" width="4" height="3.5" fill="#000"/>
<rect x="1537" y="560.8" width="20" height="31.2" fill="#000"/>
<rect x="1495.6" y="567" width="52.4" height="7.6" rx="3" fill="#fff"/>
<rect x="1536" y="565" width="10" height="5" fill="#fff"/>
<rect x="1493" y="578.6" width="55.8" height="8.4" rx="3" fill="#fff"/>
<rect x="1495.6" y="570" width="9.9" height="11" fill="#fff"/>
<line x1="1504" y1="544" x2="1511" y2="551" stroke="#fff" stroke-width="2.4" />
<line x1="1517.5" y1="549" x2="1522.5" y2="557.5" stroke="#fff" stroke-width="2.4" />
<line x1="1495" y1="595.5" x2="1505.5" y2="604" stroke="#fff" stroke-width="2.4" />
<circle cx="1496.5" cy="559" r="1.2" fill="#fff" stroke="#000" stroke-width="0" />
<circle cx="1524" cy="594" r="1.2" fill="#fff" stroke="#000" stroke-width="0" />
<rect x="1497" y="618" width="8.7" height="10.4" fill="#000"/>
<rect x="1512.5" y="618" width="4.2" height="10.4" fill="#000"/>
<rect x="1520" y="618" width="6" height="10.4" fill="#000"/>
<path d="M170 460 L161.5 478 L178.5 478 Z" fill="#000" stroke="#000" stroke-width="0" />
<line x1="170" y1="478" x2="170" y2="551" stroke="#111" stroke-width="1.5" />
<path d="M444 418 L436.0 435 L452.0 435 Z" fill="#000" stroke="#000" stroke-width="0" />
<line x1="444" y1="435" x2="444" y2="590" stroke="#111" stroke-width="1.5" />
<path d="M1042 389 L1033.5 406 L1050.5 406 Z" fill="#000" stroke="#000" stroke-width="0" />
<line x1="1042" y1="406" x2="1042" y2="580" stroke="#111" stroke-width="1.5" />
<path d="M149 102.5 L201 102.5 L224 242" fill="none" stroke="#000" stroke-width="3.4" stroke-linejoin="miter"/>
<path d="M22.5 249 L74.5 249 L94.5 436" fill="none" stroke="#000" stroke-width="2.8" stroke-linejoin="miter"/>
<path d="M299 104 L367 296" fill="none" stroke="#000" stroke-width="3.2" stroke-linejoin="miter"/>
<path d="M334 102 Q372 196 418 293" fill="none" stroke="#000" stroke-width="3.2" />
<path d="M405 105 Q408 128 421 158 L472 298 L474 304" fill="none" stroke="#000" stroke-width="3.2" />
<path d="M481.5 105 L530 271" fill="none" stroke="#000" stroke-width="3.2" stroke-linejoin="miter"/>
<path d="M574 122 L609 122 L699 210.5" fill="none" stroke="#000" stroke-width="3.2" stroke-linejoin="miter"/>
<path d="M578 177 L618 177 L668 254" fill="none" stroke="#000" stroke-width="3.2" stroke-linejoin="miter"/>
<path d="M833 102.5 L771.5 102.5 L749 207.5" fill="none" stroke="#000" stroke-width="3.2" stroke-linejoin="miter"/>
<path d="M846.5 140 L728 279" fill="none" stroke="#000" stroke-width="3.2" stroke-linejoin="miter"/>
<path d="M878 32.8 L946.5 32.8 L1007 277" fill="none" stroke="#000" stroke-width="3.2" stroke-linejoin="miter"/>
<path d="M995 105.7 L1082 105.7 L1128 271" fill="none" stroke="#000" stroke-width="3.2" stroke-linejoin="miter"/>
<path d="M1541 91 L1468 91 L1357 146" fill="none" stroke="#000" stroke-width="3.2" stroke-linejoin="miter"/>
<path d="M1628 303.5 L1528 409" fill="none" stroke="#000" stroke-width="3.2" stroke-linejoin="miter"/>
<path d="M1719 392 L1645.5 392 L1552 512.5" fill="none" stroke="#000" stroke-width="3.2" stroke-linejoin="miter"/>
<path d="M1210 492.5 L1280 724" fill="none" stroke="#000" stroke-width="2.6" stroke-linejoin="miter"/>
<path d="M1282.5 627.5 L1355.5 753" fill="none" stroke="#000" stroke-width="2.6" stroke-linejoin="miter"/>
<path d="M1429 657 L1453.5 739.5" fill="none" stroke="#000" stroke-width="2.6" stroke-linejoin="miter"/>
<path d="M1510 580 L1580 760" fill="none" stroke="#000" stroke-width="2.6" stroke-linejoin="miter"/>
<path d="M42.5 526 L114.5 614" fill="none" stroke="#000" stroke-width="3.2" stroke-linejoin="miter"/>
<path d="M46 619 L114.5 655" fill="none" stroke="#000" stroke-width="3.2" stroke-linejoin="miter"/>
<path d="M246 650 L284 787 L347.5 787" fill="none" stroke="#000" stroke-width="3.2" stroke-linejoin="miter"/>
<path d="M361 741 L420 877 L478 877" fill="none" stroke="#000" stroke-width="3.2" stroke-linejoin="miter"/>
<path d="M502 617.5 L550 765.5 L620 765.5" fill="none" stroke="#000" stroke-width="3.2" stroke-linejoin="miter"/>
<g text-anchor="middle" fill="#333" letter-spacing="0.5">
<text x="173.2" y="92" font-size="29">13</text>
<text x="52.5" y="242.5" font-size="29">31</text>
<text x="292.6" y="98.5" font-size="21">131</text>
<text x="331.4" y="96.1" font-size="21">132</text>
<text x="409.0" y="98" font-size="21">133</text>
<text x="479.0" y="95.5" font-size="21">134</text>
<text x="594.0" y="119.5" font-size="29">15</text>
<text x="597.5" y="173" font-size="29">11</text>
<text x="802.0" y="97" font-size="29">12</text>
<text x="866.5" y="144.5" font-size="21">113</text>
<text x="911.0" y="29.7" font-size="29">23</text>
<text x="1032.5" y="98" font-size="29">22</text>
<text x="1500.5" y="83" font-size="29">21</text>
<text x="1634.3" y="298" font-size="21">245</text>
<text x="1686.2" y="388" font-size="29">24</text>
<text x="1281.8" y="752.5" font-size="21">241</text>
<text x="1356.8" y="777" font-size="21">242</text>
<text x="1456.0" y="764" font-size="21">243</text>
<text x="1586.8" y="785" font-size="21">244</text>
<text x="36.5" y="519" font-size="21">342</text>
<text x="25.5" y="622" font-size="21">343</text>
<text x="311.5" y="780" font-size="29">33</text>
<text x="446.0" y="869" font-size="29">32</text>
<text x="588.2" y="759" font-size="29">14</text>
<text x="170.5" y="588.5" font-size="40">3</text>
<text x="445.2" y="630" font-size="40">1</text>
<text x="1042.5" y="613" font-size="40">2</text>
</g>
</svg>
</body></html>
